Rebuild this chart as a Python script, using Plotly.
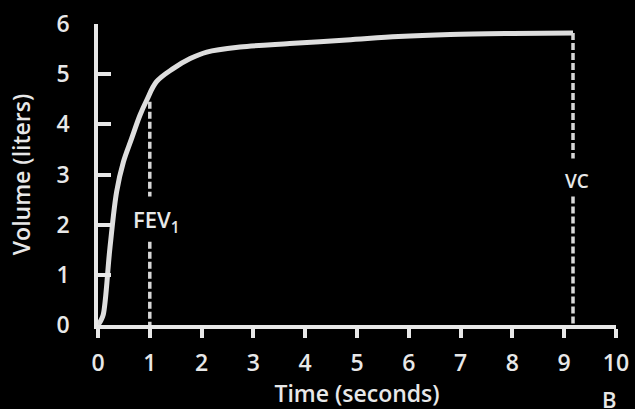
import plotly.graph_objects as go

# Spirometry curve data (time in seconds, volume in liters)
time_s = [0, 0.05, 0.1, 0.23, 0.36, 0.49, 0.65, 0.81, 0.94, 1.13, 1.45, 1.78, 2.1, 2.74, 3.7, 4.8, 5.8, 6.8, 8.0, 9.17]
volume_l = [0, 0.08, 0.2, 1.53, 2.66, 3.25, 3.72, 4.18, 4.48, 4.85, 5.11, 5.31, 5.44, 5.54, 5.61, 5.68, 5.75, 5.79, 5.81, 5.82]

# Markers
fev1_time = 1.0
fev1_top = 4.45
fev1_gap = [1.66, 2.56]
fev1_label_y = 2.08
vc_time = 9.17
vc_top = 5.82
vc_gap = [2.56, 3.32]
vc_label_y = 2.87

x_ticks = [0, 1, 2, 3, 4, 5, 6, 7, 8, 9, 10]
y_ticks = [0, 1, 2, 3, 4, 5, 6]

fg = "#e8e8e8"
font_family = "Open Sans, Noto Sans, sans-serif"

fig = go.Figure()

fig.add_trace(go.Scatter(
    x=time_s, y=volume_l, mode="lines",
    line=dict(color="#dedede", width=5, shape="spline", smoothing=1.0),
    hoverinfo="skip", showlegend=False,
))

# FEV1 dashed line with gap for label
fig.add_trace(go.Scatter(
    x=[fev1_time, fev1_time, None, fev1_time, fev1_time],
    y=[fev1_top, fev1_gap[1], None, fev1_gap[0], 0],
    mode="lines", line=dict(color="#d8d8d8", width=3.5, dash="7px,3px"),
    hoverinfo="skip", showlegend=False,
))
# VC dashed line with gap for label
fig.add_trace(go.Scatter(
    x=[vc_time, vc_time, None, vc_time, vc_time],
    y=[vc_top, vc_gap[1], None, vc_gap[0], 0],
    mode="lines", line=dict(color="#d8d8d8", width=3.5, dash="7px,3px"),
    hoverinfo="skip", showlegend=False,
))

fig.add_annotation(x=fev1_time, y=fev1_label_y, text="FEV<sub>1</sub>", showarrow=False,
                   xanchor="center", yanchor="middle", xshift=7,
                   font=dict(color=fg, size=22, family=font_family, weight=600))
fig.add_annotation(x=vc_time, y=vc_label_y, text="VC", showarrow=False,
                   xanchor="center", yanchor="middle", xshift=4,
                   font=dict(color=fg, size=19, family=font_family, weight=600))
fig.add_annotation(x=1.0, y=0, xref="paper", yref="paper", xshift=-7, yshift=-74, text="B",
                   showarrow=False, xanchor="center", yanchor="middle",
                   font=dict(color=fg, size=22, family=font_family, weight=600))

fig.update_layout(
    width=635, height=409,
    paper_bgcolor="black", plot_bgcolor="black",
    margin=dict(l=98, r=19, t=24, b=84),
    font=dict(family=font_family, color=fg),
    xaxis=dict(
        range=[0, 10], tickvals=x_ticks, ticktext=[str(v) for v in x_ticks],
        automargin=False, ticklabeloverflow="allow",
        showgrid=False, zeroline=False, showline=True, linecolor=fg, linewidth=3.5,
        ticks="outside", ticklen=9, tickwidth=3.5, tickcolor=fg,
        tickfont=dict(size=23, color=fg, family=font_family, weight=600),
        ticklabelstandoff=6,
        title=dict(text="Time (seconds)", font=dict(size=23, color=fg, family=font_family, weight=600), standoff=3),
    ),
    yaxis=dict(
        range=[0, 6], tickvals=y_ticks, ticktext=[str(v) for v in y_ticks],
        automargin=False, ticklabeloverflow="allow",
        showgrid=False, zeroline=False, showline=True, linecolor=fg, linewidth=3.5,
        ticks="inside", ticklen=13, tickwidth=3.5, tickcolor=fg,
        tickfont=dict(size=23, color=fg, family=font_family, weight=600),
        ticklabelstandoff=20,
        title=dict(text="Volume (liters)", font=dict(size=23, color=fg, family=font_family, weight=600), standoff=20),
    ),
)

fig.write_html(
    "out.html",
    config={"displayModeBar": False},
    post_script="document.body.style.margin='0';document.body.style.background='black';",
)
